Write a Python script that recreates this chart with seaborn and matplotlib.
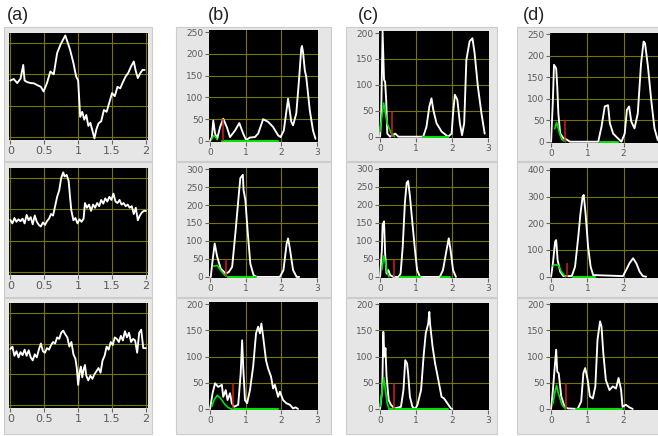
import matplotlib
matplotlib.use("Agg")
import matplotlib.pyplot as plt
import seaborn as sns
from matplotlib.patches import Rectangle

# ---------------- data ----------------
# column (a): raw traces, y in grid units (0..3)
a1_x = [0.00, 0.05, 0.10, 0.15, 0.19, 0.21, 0.25, 0.30, 0.35, 0.40, 0.45, 0.49, 0.54, 0.59, 0.64,
        0.69, 0.74, 0.79, 0.81, 0.84, 0.88, 0.93, 0.97, 1.00, 1.03, 1.06, 1.09, 1.12, 1.15, 1.18,
        1.21, 1.24, 1.27, 1.30, 1.34, 1.38, 1.42, 1.46, 1.50, 1.54, 1.58, 1.62, 1.66, 1.70, 1.74,
        1.78, 1.82, 1.85, 1.88, 1.92, 1.95, 1.98]
a1_y = [1.80, 1.85, 1.72, 1.86, 2.30, 1.80, 1.75, 1.72, 1.71, 1.65, 1.60, 1.45, 1.72, 2.09, 2.00,
        2.68, 2.95, 3.16, 3.24, 3.05, 2.79, 2.36, 1.93, 1.80, 0.64, 0.80, 0.55, 0.70, 0.35, 0.45,
        0.20, -0.05, 0.25, 0.43, 0.50, 0.86, 0.80, 1.10, 1.40, 1.30, 1.60, 1.55, 1.75, 1.93, 2.05,
        2.25, 2.41, 2.10, 1.88, 2.05, 2.14, 2.14]

a2_x = [0.00, 0.03, 0.06, 0.09, 0.12, 0.15, 0.18, 0.21, 0.24, 0.27, 0.30, 0.33, 0.36, 0.39, 0.42,
        0.45, 0.48, 0.51, 0.54, 0.57, 0.60, 0.63, 0.66, 0.69, 0.72, 0.75, 0.78, 0.80, 0.83, 0.86,
        0.88, 0.90, 0.93, 0.96, 0.99, 1.02, 1.05, 1.08, 1.10, 1.13, 1.16, 1.19, 1.22, 1.25, 1.28,
        1.31, 1.34, 1.37, 1.40, 1.43, 1.46, 1.49, 1.52, 1.55, 1.58, 1.61, 1.64, 1.67, 1.70, 1.73,
        1.76, 1.79, 1.82, 1.85, 1.88, 1.91, 1.94, 1.97, 2.00]
a2_y = [1.66, 1.55, 1.72, 1.60, 1.68, 1.62, 1.70, 1.55, 1.82, 1.65, 1.75, 1.52, 1.80, 1.60, 1.50,
        1.45, 1.58, 1.50, 1.62, 1.70, 1.85, 1.80, 2.10, 2.40, 2.60, 3.00, 3.18, 3.05, 3.10, 2.90,
        2.40, 1.95, 1.65, 1.72, 1.55, 1.68, 1.60, 1.70, 2.20, 2.05, 2.15, 1.95, 2.15, 2.05, 2.20,
        2.10, 2.30, 2.18, 2.35, 2.25, 2.40, 2.30, 2.50, 2.25, 2.20, 2.30, 2.15, 2.20, 2.10, 2.15,
        2.05, 2.10, 1.85, 2.05, 1.65, 1.80, 1.90, 1.95, 1.95]

a3_x = [0.00, 0.03, 0.06, 0.09, 0.12, 0.15, 0.18, 0.21, 0.24, 0.27, 0.30, 0.33, 0.36, 0.39, 0.42,
        0.45, 0.48, 0.51, 0.54, 0.57, 0.60, 0.63, 0.66, 0.69, 0.72, 0.75, 0.78, 0.81, 0.84, 0.87,
        0.90, 0.93, 0.96, 0.98, 1.00, 1.02, 1.04, 1.06, 1.08, 1.10, 1.12, 1.15, 1.18, 1.21, 1.24,
        1.27, 1.30, 1.33, 1.36, 1.39, 1.42, 1.45, 1.48, 1.51, 1.54, 1.57, 1.60, 1.63, 1.66, 1.69,
        1.72, 1.75, 1.78, 1.81, 1.84, 1.87, 1.90, 1.93, 1.96, 2.00]
a3_y = [1.82, 1.90, 1.60, 1.75, 1.55, 1.72, 1.62, 1.80, 1.60, 1.78, 1.55, 1.45, 1.65, 1.55, 1.80,
        2.00, 1.75, 1.70, 1.85, 1.80, 1.95, 2.05, 2.00, 2.20, 2.15, 2.35, 2.42, 2.30, 2.20, 1.90,
        2.05, 1.65, 1.50, 1.20, 0.65, 1.05, 1.25, 0.90, 1.15, 1.30, 0.95, 0.80, 0.95, 0.85, 1.00,
        1.10, 1.20, 1.05, 1.45, 1.60, 1.90, 1.80, 2.05, 1.95, 2.20, 2.15, 2.05, 2.25, 2.10, 2.40,
        2.20, 2.35, 2.05, 2.15, 2.10, 1.70, 2.35, 2.45, 1.85, 1.85]

# columns (b)-(d): white curves
b1_x = [0.00, 0.05, 0.09, 0.14, 0.20, 0.28, 0.37, 0.47, 0.56, 0.70, 0.82, 0.93, 1.01, 1.12, 1.26,
        1.35, 1.49, 1.63, 1.77, 1.91, 1.98, 2.07, 2.19, 2.28, 2.33, 2.42, 2.50, 2.56, 2.58, 2.61,
        2.66, 2.70, 2.80, 2.89, 2.96]
b1_y = [0, 9, 47, 17, 5, 32, 51, 32, 9, 24, 41, 17, 2, 8, 9,
        17, 50, 44, 32, 13, 9, 24, 97, 44, 36, 63, 143, 212, 218, 204,
        162, 147, 70, 24, 5]
b2_x = [0.00, 0.02, 0.06, 0.13, 0.20, 0.30, 0.44, 0.53, 0.62, 0.71, 0.81, 0.85, 0.92, 0.94, 0.99,
        1.06, 1.13, 1.22, 1.31, 1.96, 2.06, 2.15, 2.19, 2.24, 2.33, 2.43, 2.50]
b2_y = [0, 0, 37, 93, 56, 23, 9, 14, 28, 121, 233, 275, 284, 242, 214,
        121, 37, 5, 0, 0, 19, 93, 107, 79, 19, 0, 0]
b3_x = [0.00, 0.07, 0.14, 0.23, 0.33, 0.37, 0.44, 0.49, 0.56, 0.61, 0.67, 0.79, 0.86, 0.90, 0.93,
        0.98, 1.04, 1.12, 1.21, 1.29, 1.35, 1.40, 1.44, 1.49, 1.57, 1.63, 1.71, 1.77, 1.82, 1.91,
        1.96, 2.05, 2.14, 2.24, 2.33, 2.40, 2.47]
b3_y = [0, 30, 49, 42, 46, 23, 36, 17, 30, 11, 4, 8, 68, 131, 81,
        17, 11, 36, 81, 144, 157, 144, 163, 138, 93, 77, 62, 39, 46, 23,
        33, 17, 11, 8, 1, 3, 0]
c1_x = [0.00, 0.03, 0.07, 0.11, 0.14, 0.17, 0.20, 0.28, 0.42, 0.51, 1.20, 1.29, 1.37, 1.43, 1.48,
        1.57, 1.71, 1.89, 1.99, 2.03, 2.08, 2.15, 2.22, 2.28, 2.34, 2.40, 2.49, 2.57, 2.63, 2.72,
        2.82, 2.91]
c1_y = [0, 39, 203, 110, 106, 71, 6, 0, 6, 0, 0, 19, 58, 74, 52,
        26, 10, 0, 6, 45, 81, 71, 26, 3, 26, 148, 184, 190, 161, 97,
        45, 6]
c2_x = [0.00, 0.05, 0.07, 0.11, 0.14, 0.18, 0.23, 0.28, 0.37, 0.51, 0.57, 0.63, 0.69, 0.74, 0.78,
        0.83, 0.90, 0.97, 1.03, 1.11, 1.66, 1.75, 1.85, 1.91, 1.96, 2.03, 2.11]
c2_y = [0, 75, 144, 154, 65, 9, 19, 5, 0, 0, 9, 84, 205, 261, 266,
        224, 149, 75, 19, 0, 0, 19, 75, 107, 75, 19, 0]
c3_x = [0.00, 0.06, 0.09, 0.12, 0.15, 0.18, 0.24, 0.30, 0.40, 0.58, 0.65, 0.70, 0.75, 0.78, 0.83,
        0.90, 0.98, 1.04, 1.14, 1.21, 1.27, 1.34, 1.37, 1.39, 1.46, 1.53, 1.63, 1.71, 1.78, 1.87,
        1.97, 2.01]
c3_y = [0, 36, 147, 100, 116, 62, 17, 8, 1, 4, 36, 93, 87, 68, 23,
        4, 0, 8, 36, 100, 144, 163, 185, 163, 119, 87, 52, 23, 20, 11,
        1, 0]
d1_x = [0.00, 0.05, 0.08, 0.14, 0.17, 0.20, 0.25, 0.34, 0.43, 0.52, 1.30, 1.39, 1.48, 1.57, 1.62,
        1.71, 1.84, 1.94, 2.03, 2.09, 2.15, 2.21, 2.30, 2.39, 2.48, 2.55, 2.59, 2.67, 2.76, 2.85,
        2.94]
d1_y = [0, 97, 179, 171, 128, 66, 19, 8, 5, 0, 0, 35, 82, 85, 43,
        19, 8, 0, 19, 74, 82, 47, 31, 66, 182, 233, 229, 175, 97, 31,
        4]
d2_x = [0.00, 0.05, 0.11, 0.14, 0.18, 0.25, 0.34, 0.57, 0.66, 0.75, 0.81, 0.87, 0.90, 0.95, 1.02,
        1.09, 1.16, 1.98, 2.07, 2.16, 2.26, 2.35, 2.44, 2.53, 2.62]
d2_y = [0, 50, 131, 137, 62, 19, 2, 2, 37, 150, 237, 300, 306, 237, 112,
        37, 6, 2, 25, 50, 69, 50, 19, 2, 0]
d3_x = [0.00, 0.05, 0.09, 0.14, 0.17, 0.21, 0.28, 0.37, 0.46, 0.73, 0.83, 0.89, 0.94, 1.01, 1.07,
        1.15, 1.22, 1.28, 1.35, 1.39, 1.44, 1.51, 1.61, 1.70, 1.79, 1.86, 1.93, 1.97, 2.06, 2.16,
        2.25]
d3_y = [0, 36, 71, 113, 71, 68, 24, 4, 1, 0, 14, 68, 78, 55, 24,
        20, 43, 132, 167, 157, 106, 55, 36, 43, 39, 59, 36, 4, 8, 3,
        0]

# green curves, green zero-segments and red markers
b1_gx = [0.05, 0.10, 0.15, 0.20]
b1_gy = [5, 12, 10, 3]
b2_gx = [0.10, 0.20, 0.30, 0.40, 0.50]
b2_gy = [30, 32, 18, 6, 0]
b3_gx = [0.05, 0.12, 0.20, 0.30, 0.40, 0.50, 0.60]
b3_gy = [5, 18, 26, 20, 10, 3, 0]
c1_gx = [0.00, 0.05, 0.10, 0.15, 0.20, 0.30, 0.40]
c1_gy = [10, 40, 65, 45, 25, 8, 0]
c2_gx = [0.05, 0.10, 0.15, 0.20, 0.25]
c2_gy = [20, 58, 40, 12, 0]
c3_gx = [0.00, 0.05, 0.10, 0.15, 0.20, 0.25]
c3_gy = [5, 30, 60, 35, 10, 0]
d1_gx = [0.10, 0.15, 0.20, 0.25, 0.30, 0.40]
d1_gy = [30, 45, 30, 15, 5, 0]
d2_gx = [0.05, 0.10, 0.20, 0.30, 0.40]
d2_gy = [40, 45, 42, 15, 0]
d3_gx = [0.05, 0.10, 0.15, 0.20, 0.30, 0.40]
d3_gy = [10, 30, 45, 30, 8, 0]

b1_flat = [(0.33, 1.90)]
b2_flat = [(0.50, 1.30)]
b3_flat = [(0.60, 1.90)]
c1_flat = [(1.20, 1.90)]
c2_flat = [(0.55, 1.10), (1.70, 1.95)]
c3_flat = [(0.25, 1.90)]
d1_flat = [(1.35, 1.85)]
d2_flat = [(0.60, 1.20)]
d3_flat = [(0.70, 1.95)]

red_x = {"b1": 0.35, "b2": 0.46, "b3": 0.63, "c1": 0.32, "c2": 0.39, "c3": 0.38,
         "d1": 0.37, "d2": 0.43, "d3": 0.41}
red_h = 50

a_xticks = [0, 0.5, 1, 1.5, 2]
a_xlabels = ["0", "0.5", "1", "1.5", "2"]
bcd_xticks = [0, 1, 2, 3]
bcd_xlabels = ["0", "1", "2", "3"]
yticks_250 = [0, 50, 100, 150, 200, 250]
yticks_300 = [0, 50, 100, 150, 200, 250, 300]
yticks_200 = [0, 50, 100, 150, 200]
yticks_400 = [0, 100, 200, 300, 400]
panel_labels = ["(a)", "(b)", "(c)", "(d)"]

# ---------------- figure ----------------
sns.set_theme(style="ticks")
plt.rcParams['font.family'] = ['DejaVu Sans']

W, H = 658, 436
fig = plt.figure(figsize=(W / 100, H / 100), dpi=100)
fig.patch.set_facecolor("white")


def box(x0, y0, x1, y1):
    return [x0 / W, 1 - y1 / H, (x1 - x0) / W, (y1 - y0) / H]


# grey LabVIEW-like panels
for (px0, px1) in [(4, 152), (176, 331), (346, 497), (517, 662)]:
    for (py0, py1) in [(27, 161), (162, 297), (298, 434)]:
        fig.add_artist(Rectangle((px0 / W, 1 - py1 / H), (px1 - px0) / W, (py1 - py0) / H,
                                 transform=fig.transFigure, facecolor="#e6e6e6",
                                 edgecolor="#cccccc", lw=0.8, zorder=0))

GRID = "#767600"


def style(ax, xlim, ylim, xticks, xlabels, yticks, ylabels, fs, hide_edges):
    ax.set_facecolor("black")
    ax.set_xlim(xlim)
    ax.set_ylim(ylim)
    ax.set_xticks(xticks)
    ax.set_xticklabels(xlabels)
    ax.set_yticks(yticks)
    if ylabels is None:
        ax.tick_params(axis="y", left=False, labelleft=False)
    else:
        ax.set_yticklabels(ylabels)
        ax.tick_params(axis="y", left=True, direction="out", length=3, width=0.8,
                       color="#666666", labelcolor="#5a5a5a", labelsize=fs, pad=1)
    ax.tick_params(axis="x", bottom=True, direction="out", length=3, width=0.8,
                   color="#666666", labelcolor="#5a5a5a", labelsize=fs, pad=1.5)
    ax.grid(True, color=GRID, lw=0.8)
    ax.set_axisbelow(True)
    if hide_edges:
        xg = ax.get_xgridlines()
        yg = ax.get_ygridlines()
        for g in (xg[0], xg[-1], yg[0], yg[-1]):
            g.set_visible(False)
    for s in ax.spines.values():
        s.set_visible(False)
    ax.set_xlabel("")
    ax.set_ylabel("")


# column (a)
a_rows = [(a1_x, a1_y, (33, 140)), (a2_x, a2_y, (168, 275)), (a3_x, a3_y, (303, 408))]
for xs, ys, (y0, y1) in a_rows:
    ax = fig.add_axes(box(9, y0, 148, y1))
    sns.lineplot(x=xs, y=ys, ax=ax, color="white", lw=1.35, estimator=None, sort=False)
    style(ax, (-0.02, 2.03), (-0.1, 3.32), a_xticks, a_xlabels, [0, 1, 2, 3], None, 8, False)

# columns (b)-(d)
panels = [
    ("b1", b1_x, b1_y, b1_gx, b1_gy, b1_flat, (209, 30, 318, 142), (-2.3, 254.6), yticks_250),
    ("b2", b2_x, b2_y, b2_gx, b2_gy, b2_flat, (209, 168, 318, 278), (-3, 303), yticks_300),
    ("b3", b3_x, b3_y, b3_gx, b3_gy, b3_flat, (209, 302, 318, 410), (-2, 204), yticks_200),
    ("c1", c1_x, c1_y, c1_gx, c1_gy, c1_flat, (379, 31, 489, 138), (-2.5, 204), yticks_200),
    ("c2", c2_x, c2_y, c2_gx, c2_gy, c2_flat, (379, 168, 489, 278), (-3, 302), yticks_300),
    ("c3", c3_x, c3_y, c3_gx, c3_gy, c3_flat, (379, 303, 489, 410), (-2, 202), yticks_200),
    ("d1", d1_x, d1_y, d1_gx, d1_gy, d1_flat, (550, 33, 661, 143), (-3, 253), yticks_250),
    ("d2", d2_x, d2_y, d2_gx, d2_gy, d2_flat, (550, 168, 661, 278), (-5, 407), yticks_400),
    ("d3", d3_x, d3_y, d3_gx, d3_gy, d3_flat, (550, 303, 661, 410), (-2, 202), yticks_200),
]
for key, xs, ys, gx, gy, flats, (x0, y0, x1, y1), ylim, yt in panels:
    ax = fig.add_axes(box(x0, y0, x1, y1))
    sns.lineplot(x=xs, y=ys, ax=ax, color="white", lw=1.35, estimator=None, sort=False)
    sns.lineplot(x=gx, y=gy, ax=ax, color="#00e000", lw=1.2, estimator=None, sort=False)
    for fa, fb in flats:
        sns.lineplot(x=[fa, fb], y=[0, 0], ax=ax, color="#00e000", lw=1.5,
                     estimator=None, sort=False)
    ax.vlines(red_x[key], 0, red_h, color="#d02020", lw=1.1, zorder=5)
    style(ax, (-0.03, 3.03), ylim, bcd_xticks, bcd_xlabels, yt, [str(v) for v in yt], 6.5, True)

# panel letters
for lab, lx in zip(panel_labels, [7, 208, 358, 523]):
    fig.text(lx / W, 1 - 15 / H, lab, fontsize=13, family=["Liberation Sans", "DejaVu Sans"],
             va="center", ha="left", color="#222222")

fig.savefig("out.png", dpi=100, facecolor="white")
